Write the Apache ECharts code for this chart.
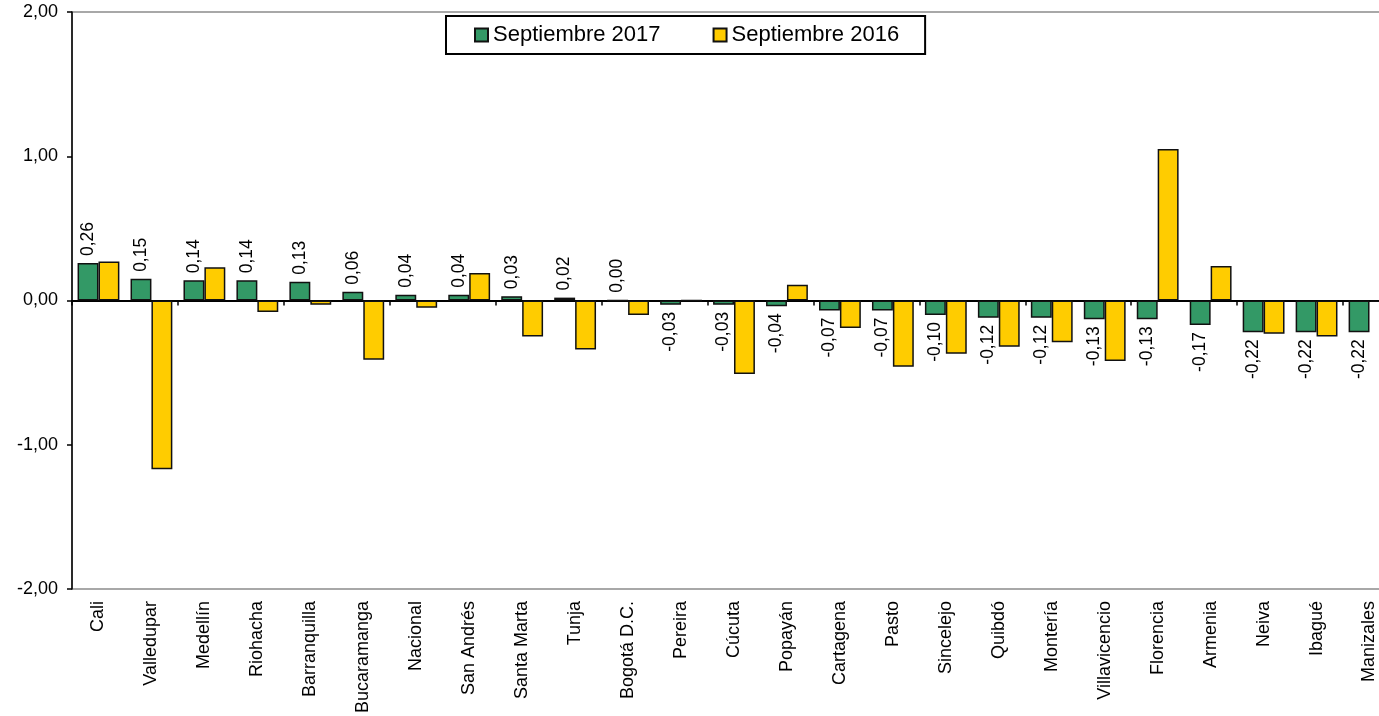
<!DOCTYPE html>
<html>
<head>
<meta charset="utf-8">
<script src="https://cdn.jsdelivr.net/npm/echarts@6/dist/echarts.min.js"></script>
<style>
  html, body { margin: 0; padding: 0; background: #fff; }
  #chart { width: 1379px; height: 716px; }
</style>
</head>
<body>
<div id="chart"></div>
<script>
// Ciudades (categorías del eje X)
const ciudades = ['Cali', 'Valledupar', 'Medellín', 'Riohacha', 'Barranquilla', 'Bucaramanga',
  'Nacional', 'San Andrés', 'Santa Marta', 'Tunja', 'Bogotá D.C.', 'Pereira', 'Cúcuta',
  'Popayán', 'Cartagena', 'Pasto', 'Sincelejo', 'Quibdó', 'Montería', 'Villavicencio',
  'Florencia', 'Armenia', 'Neiva', 'Ibagué', 'Manizales'];

// Variación septiembre 2017
const sep2017 = [0.26, 0.15, 0.14, 0.14, 0.13, 0.06, 0.04, 0.04, 0.03, 0.02, 0.00, -0.03, -0.03,
  -0.04, -0.07, -0.07, -0.10, -0.12, -0.12, -0.13, -0.13, -0.17, -0.22, -0.22, -0.22];

// Variación septiembre 2016
const sep2016 = [0.27, -1.17, 0.23, -0.08, -0.03, -0.41, -0.05, 0.19, -0.25, -0.34, -0.10, 0.00, -0.51,
  0.11, -0.19, -0.46, -0.37, -0.32, -0.29, -0.42, 1.05, 0.24, -0.23, -0.25, -0.01];

// Marcas del eje Y
const yTicks = { min: -2, max: 2, interval: 1 };

const fmt = v => v.toFixed(2).replace('.', ',');
const FONT = '"Liberation Sans", Arial, sans-serif';

// Etiquetas verticales: sobre la barra si es positiva, debajo si es negativa
const datos2017 = sep2017.map(v => ({
  value: v,
  label: v >= 0
    ? { position: 'top', align: 'left', verticalAlign: 'middle' }
    : { position: 'bottom', align: 'right', verticalAlign: 'middle' }
}));

const chart = echarts.init(document.getElementById('chart'), null, { renderer: 'canvas' });

chart.setOption({
  animation: false,
  backgroundColor: '#fff',
  textStyle: { fontFamily: FONT },
  grid: {
    left: 72, top: 12, width: 1324, height: 577,
    outerBoundsMode: 'none',
    show: true, borderColor: '#8c8c8c', borderWidth: 1.5, backgroundColor: 'transparent'
  },
  legend: {
    left: 446, top: 16,
    padding: [6, 26, 6, 28],
    borderColor: '#000', borderWidth: 2,
    itemWidth: 13, itemHeight: 13, itemGap: 52,
    icon: 'rect',
    textStyle: { fontSize: 22, color: '#000', fontFamily: FONT, lineHeight: 26 },
    data: ['Septiembre 2017', 'Septiembre 2016']
  },
  xAxis: [
    {
      type: 'category', data: ciudades,
      axisLine: { onZero: true, lineStyle: { color: '#000', width: 2 } },
      axisTick: { show: true, inside: false, length: 5, lineStyle: { color: '#000', width: 1.5 } },
      axisLabel: { show: false }
    },
    {
      type: 'category', data: ciudades, position: 'bottom',
      axisLine: { show: false, onZero: false },
      axisTick: { show: false },
      axisLabel: { rotate: 90, fontSize: 18, color: '#000', margin: 12, interval: 0, fontFamily: FONT }
    }
  ],
  yAxis: {
    type: 'value', min: yTicks.min, max: yTicks.max, interval: yTicks.interval,
    axisLine: { show: true, lineStyle: { color: '#000', width: 1.5 } },
    axisTick: { show: true, length: 5, lineStyle: { color: '#000', width: 1.5 } },
    splitLine: { show: false },
    axisLabel: { formatter: fmt, fontSize: 18, color: '#000', margin: 14, fontFamily: FONT }
  },
  series: [
    {
      name: 'Septiembre 2017', type: 'bar', xAxisIndex: 0,
      data: datos2017,
      barGap: '0%', barCategoryGap: '21%',
      itemStyle: { color: '#339966', borderColor: '#111', borderWidth: 1.5 },
      label: {
        show: true, rotate: 90, distance: 7, fontSize: 17.5, color: '#000',
        fontFamily: FONT, formatter: p => fmt(p.value)
      }
    },
    {
      name: 'Septiembre 2016', type: 'bar', xAxisIndex: 0,
      data: sep2016,
      barGap: '0%', barCategoryGap: '21%',
      itemStyle: { color: '#FFCC00', borderColor: '#111', borderWidth: 1.5 }
    }
  ]
});
</script>
</body>
</html>
